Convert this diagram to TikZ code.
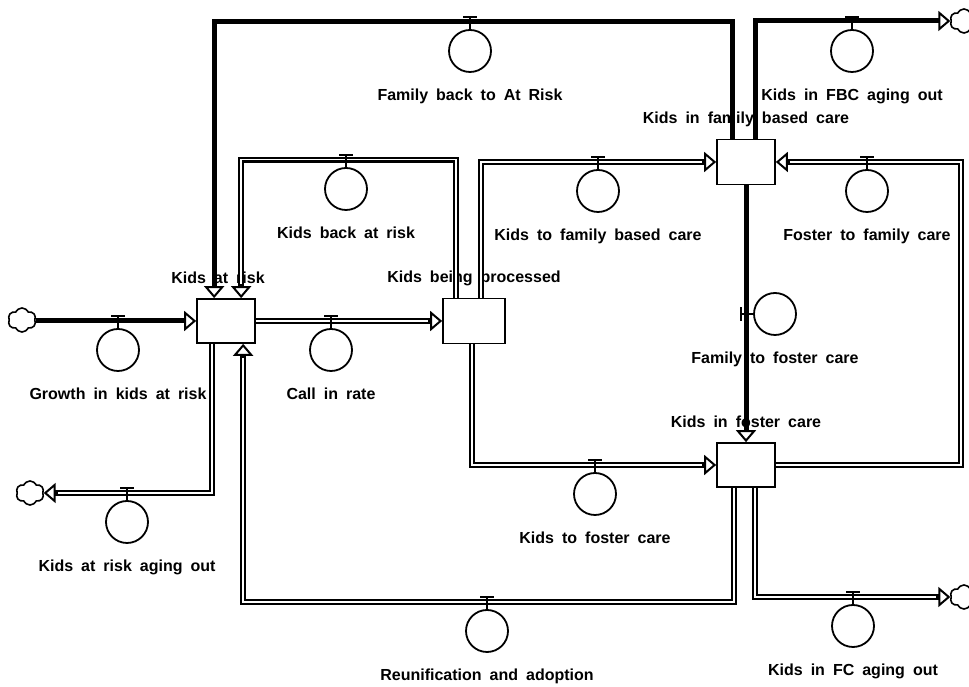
\documentclass[tikz,border=0pt]{standalone}
\usepackage{fontspec}
\setmainfont{Liberation Sans}[WordSpace=1.8]
\usetikzlibrary{arrows.meta, positioning, calc, shapes.symbols}
\tikzset{
  stock/.style={rectangle, draw, line width=1.7pt, fill=white,
    minimum width=58pt, minimum height=44pt, inner sep=0pt},
  stocklabel/.style={font=\fontsize{16}{18}\selectfont\bfseries,
    inner sep=1pt, text height=11.5pt, text depth=3.5pt},
  valve/.style={circle, draw, line width=1.8pt, minimum size=42pt, inner sep=0pt},
  valvelabel/.style={font=\fontsize{16}{18}\selectfont\bfseries,
    inner sep=1pt, text height=11.5pt, text depth=3.5pt},
  cloudy/.style={cloud, cloud puffs=6, cloud puff arc=130, cloud ignores aspect, draw,
    line width=1.6pt, minimum width=28pt, minimum height=24pt, inner sep=0pt},
  pipe/.style={->, line width=6pt, line join=miter,
    postaction={draw=white, line width=1.6pt, -, shorten >=14pt}},
  solidpipe/.style={->, line width=5pt, line join=miter},
  tee/.style={line width=2.4pt},
  >={Triangle[length=12pt, width=20pt, line width=2pt, fill=white]},
}
\begin{document}
\begin{tikzpicture}[x=1pt, y=1pt]
\useasboundingbox (0,0) rectangle (969,687);

% stocks
\node (risk) [stock] at (226,366) {};
\node (proc) [stock, minimum width=62pt, minimum height=45pt] at (474,366) {};
\node (fbc)  [stock, minimum height=45pt] at (746,525) {};
\node (fc)   [stock] at (746,222) {};

\node (riskl) [stocklabel, above=10pt of risk, xshift=-8pt] {Kids at risk};
\node (procl) [stocklabel, above=10pt of proc] {Kids being processed};
\node (fbcl)  [stocklabel, above=10pt of fbc] {Kids in family based care};
\node (fcl)   [stocklabel, above=10pt of fc] {Kids in foster care};

% sources and sinks
\node (srcc)  [cloudy] at (22,367) {};
\node (riskc) [cloudy] at (30,194) {};
\node (fbcc)  [cloudy] at (964,666) {};
\node (fcc)   [cloudy] at (964,90) {};

% flows
\draw[solidpipe] (srcc.east |- risk.west) -- (risk.west);
\draw[pipe] ($(risk.south west)+(16,0)$) |- (riskc.east);
\draw[pipe] (risk.east) -- (proc.west);
\draw[pipe] ($(proc.north west)+(14,0)$) -- ++(0,138) -| ($(risk.north west)+(45,0)$);
\draw[solidpipe] ($(fbc.north west)+(16,0)$) -- ++(0,117) -| ($(risk.north west)+(18,0)$);
\draw[pipe] ($(proc.north west)+(39,0)$) |- (fbc.west);
\draw[solidpipe] ($(fbc.north west)+(39,0)$) |- (fbcc.west);
\draw[pipe] (fc.east) -| ($(fbc.east)+(185,0)$) -- (fbc.east);
\draw[solidpipe] (fbc.south) -- (fc.north);
\draw[pipe] ($(proc.south west)+(30,0)$) |- (fc.west);
\draw[pipe] ($(fc.south west)+(18,0)$) -- ++(0,-114) -| ($(risk.south west)+(47,0)$);
\draw[pipe] ($(fc.south west)+(39,0)$) |- (fcc.west);

% valves
\node (growthv)  [valve] at (118,337) {};
\node (riskoutv) [valve] at (127,165) {};
\node (callinv)  [valve] at (331,337) {};
\node (backriskv) [valve] at (346,498) {};
\node (fambackv) [valve] at (470,636) {};
\node (tofbcv)   [valve] at (598,496) {};
\node (fbcoutv)  [valve] at (852,636) {};
\node (fostfamv) [valve] at (867,496) {};
\node (famfostv) [valve] at (775,373) {};
\node (tofcv)    [valve] at (595,193) {};
\node (reunv)    [valve] at (487,56) {};
\node (fcoutv)   [valve] at (853,61) {};

\foreach \v in {growthv, riskoutv, callinv, backriskv, fambackv, tofbcv,
                fbcoutv, fostfamv, tofcv, reunv, fcoutv}
  \draw[tee] (\v.north) -- ++(0,12) ++(-7,0) -- ++(14,0);
\draw[tee] (famfostv.west) -- ++(-12,0) ++(0,-7) -- ++(0,14);

\node (growthl)  [valvelabel, below=15pt of growthv] {Growth in kids at risk};
\node (riskoutl) [valvelabel, below=15pt of riskoutv] {Kids at risk aging out};
\node (callinl)  [valvelabel, below=15pt of callinv] {Call in rate};
\node (backriskl) [valvelabel, below=15pt of backriskv] {Kids back at risk};
\node (fambackl) [valvelabel, below=15pt of fambackv] {Family back to At Risk};
\node (tofbcl)   [valvelabel, below=15pt of tofbcv] {Kids to family based care};
\node (fbcoutl)  [valvelabel, below=15pt of fbcoutv] {Kids in FBC aging out};
\node (fostfaml) [valvelabel, below=15pt of fostfamv] {Foster to family care};
\node (famfostl) [valvelabel, below=15pt of famfostv] {Family to foster care};
\node (tofcl)    [valvelabel, below=15pt of tofcv] {Kids to foster care};
\node (reunl)    [valvelabel, below=15pt of reunv] {Reunification and adoption};
\node (fcoutl)   [valvelabel, below=15pt of fcoutv] {Kids in FC aging out};

\end{tikzpicture}
\end{document}
